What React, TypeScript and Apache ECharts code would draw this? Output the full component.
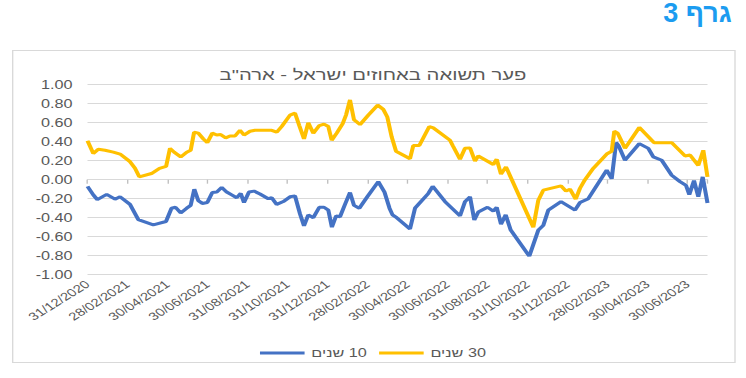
import React, { useEffect, useRef } from "react";
import * as echarts from "echarts";

// The reference image is horizontally stretched; render narrower and stretch back.
const BASE_W = 552;
const STRETCH = 746 / BASE_W;
const FONT = '"Liberation Sans", Arial, sans-serif';

const chartTitle = 'פער תשואה באחוזים ישראל - ארה"ב';
const pageTitle = "גרף 3";
const seriesNames = ["10 שנים", "30 שנים"];

// x tick labels, every 2 months starting 31/12/2020
const tickLabels = [
  "31/12/2020", "28/02/2021", "30/04/2021", "30/06/2021", "31/08/2021", "31/10/2021",
  "31/12/2021", "28/02/2022", "30/04/2022", "30/06/2022", "31/08/2022", "31/10/2022",
  "31/12/2022", "28/02/2023", "30/04/2023", "30/06/2023",
];

// [months since 31/12/2020, spread %]
const tenYear: [number, number][] = [
  [0, -0.07], [0.29, -0.16], [0.49, -0.21], [0.96, -0.155], [1.375, -0.205], [1.625, -0.18],
  [2.125, -0.26], [2.54, -0.42], [3.29, -0.475], [3.925, -0.44], [4.2, -0.3], [4.4, -0.29],
  [4.66, -0.35], [4.96, -0.3], [5.16, -0.27], [5.34, -0.1], [5.54, -0.22], [5.74, -0.25],
  [5.99, -0.24], [6.24, -0.135], [6.46, -0.13], [6.71, -0.08], [6.96, -0.13], [7.21, -0.16],
  [7.46, -0.19], [7.66, -0.145], [7.825, -0.24], [8.075, -0.13], [8.325, -0.12], [8.625, -0.15],
  [9.04, -0.2], [9.21, -0.19], [9.46, -0.26], [9.79, -0.23], [10.125, -0.18], [10.375, -0.17],
  [10.625, -0.36], [10.825, -0.485], [11.04, -0.37], [11.29, -0.4], [11.59, -0.29], [11.825, -0.29],
  [12.04, -0.32], [12.22, -0.5], [12.43, -0.38], [12.625, -0.39], [12.875, -0.26], [13.125, -0.135],
  [13.325, -0.27], [13.59, -0.3], [13.99, -0.18], [14.54, -0.02], [14.85, -0.13], [15.1, -0.3],
  [15.25, -0.37], [15.46, -0.4], [16.125, -0.52], [16.375, -0.3], [16.59, -0.25], [17.04, -0.145],
  [17.26, -0.07], [17.875, -0.23], [18.625, -0.38], [18.875, -0.23], [19.125, -0.18], [19.34, -0.425],
  [19.54, -0.34], [20.0, -0.29], [20.29, -0.33], [20.46, -0.29], [20.675, -0.47], [20.91, -0.37],
  [21.16, -0.53], [22.09, -0.805], [22.54, -0.53], [22.79, -0.48], [23.04, -0.32], [23.675, -0.23],
  [24.375, -0.32], [24.625, -0.24], [25.04, -0.2], [25.96, 0.1], [26.21, 0.01], [26.43, 0.39],
  [26.55, 0.36], [26.875, 0.205], [27.59, 0.38], [28.04, 0.33], [28.29, 0.24], [28.71, 0.205],
  [29.21, 0.047], [29.625, -0.02], [29.925, -0.06], [30.09, -0.156], [30.325, -0.01], [30.54, -0.18],
  [30.76, 0.03], [31.0, -0.245],
];

const thirtyYear: [number, number][] = [
  [0, 0.41], [0.29, 0.276], [0.54, 0.32], [0.875, 0.31], [1.29, 0.29], [1.63, 0.27],
  [2.125, 0.19], [2.375, 0.12], [2.59, 0.03], [3.2, 0.065], [3.6, 0.12], [3.93, 0.14],
  [4.125, 0.33], [4.33, 0.29], [4.66, 0.24], [4.96, 0.29], [5.16, 0.31], [5.33, 0.5],
  [5.54, 0.49], [5.79, 0.43], [5.99, 0.39], [6.24, 0.49], [6.46, 0.47], [6.66, 0.475],
  [6.91, 0.44], [7.125, 0.46], [7.375, 0.46], [7.625, 0.52], [7.825, 0.47], [8.125, 0.51],
  [8.375, 0.52], [9.21, 0.52], [9.46, 0.5], [9.71, 0.56], [10.125, 0.68], [10.375, 0.7],
  [10.59, 0.57], [10.825, 0.43], [11.04, 0.6], [11.29, 0.49], [11.59, 0.57], [11.825, 0.585],
  [12.04, 0.56], [12.21, 0.415], [12.46, 0.49], [12.76, 0.59], [12.925, 0.68], [13.125, 0.84],
  [13.325, 0.63], [13.625, 0.58], [14.04, 0.68], [14.51, 0.785], [14.79, 0.74], [14.99, 0.66],
  [15.21, 0.45], [15.425, 0.3], [16.125, 0.22], [16.29, 0.36], [16.59, 0.36], [17.09, 0.56],
  [17.29, 0.545], [18.125, 0.415], [18.26, 0.36], [18.625, 0.215], [18.875, 0.33], [19.125, 0.335],
  [19.375, 0.195], [19.54, 0.25], [20.29, 0.16], [20.46, 0.215], [20.675, 0.058], [20.925, 0.135],
  [22.29, -0.5], [22.54, -0.216], [22.79, -0.11], [23.675, -0.065], [23.925, -0.12], [24.125, -0.1],
  [24.41, -0.205], [24.625, -0.09], [24.875, 0.0], [25.29, 0.12], [25.96, 0.27], [26.21, 0.3],
  [26.34, 0.51], [26.51, 0.49], [26.875, 0.33], [27.59, 0.55], [28.325, 0.39], [29.21, 0.39],
  [29.875, 0.25], [30.125, 0.26], [30.54, 0.15], [30.79, 0.31], [31.0, 0.03],
];

const colors = ["#4472C4", "#FFC000"];

export default function App() {
  const ref = useRef<HTMLDivElement>(null);
  useEffect(() => {
    if (!ref.current) return;
    const chart = echarts.init(ref.current, null, { renderer: "svg" });
    const xLabel = (v: number) => {
      const i = Math.round(v / 2);
      return Math.abs(v - i * 2) < 1e-6 && tickLabels[i] ? tickLabels[i] : "";
    };
    const gridLeft = 87.5 / STRETCH;
    const gridRight = 707.5 / STRETCH;
    chart.setOption({
      animation: false,
      graphic: [
        {
          type: "rect",
          silent: true,
          shape: { x: 12.7 / STRETCH, y: 50.5, width: (735 - 12.7) / STRETCH, height: 312 },
          style: { fill: "none", stroke: "#d9d9d9", lineWidth: 1 },
        },
        {
          type: "text",
          x: 731.7 / STRETCH,
          y: 13.5,
          scaleX: 1 / STRETCH,
          style: {
            text: pageTitle,
            font: `bold 27px ${FONT}`,
            fill: "#1C9CF0",
            textAlign: "right",
            textVerticalAlign: "middle",
          },
        },
      ],
      title: {
        text: chartTitle,
        left: "center",
        top: 62,
        textStyle: { fontFamily: FONT, fontSize: 15, fontWeight: "normal", color: "#595959" },
      },
      grid: { left: gridLeft, top: 84.7, width: gridRight - gridLeft, height: 190 },
      xAxis: [
        {
          type: "value",
          min: 0,
          max: 31,
          interval: 2,
          axisLine: { show: true, onZero: true, lineStyle: { color: "#d9d9d9", width: 1 } },
          axisTick: { show: true, length: 4, lineStyle: { color: "#bfbfbf" } },
          axisLabel: { show: false },
          splitLine: { show: false },
        },
        {
          type: "value",
          min: 0,
          max: 31,
          interval: 2,
          position: "bottom",
          axisLine: { show: false, onZero: false },
          axisTick: { show: false },
          axisLabel: {
            rotate: 40,
            formatter: xLabel,
            fontFamily: FONT,
            fontSize: 11,
            color: "#595959",
            margin: 8,
          },
          splitLine: { show: false },
        },
      ],
      yAxis: {
        type: "value",
        min: -1,
        max: 1,
        interval: 0.2,
        axisLine: { show: false, onZero: false },
        axisTick: { show: false },
        axisLabel: {
          formatter: (v: number) => v.toFixed(2),
          fontFamily: FONT,
          fontSize: 12,
          color: "#595959",
          margin: 11,
        },
        splitLine: { lineStyle: { color: "#d9d9d9", width: 1 } },
      },
      legend: {
        left: "center",
        top: 342,
        icon: "rect",
        itemWidth: 33,
        itemHeight: 3,
        itemGap: 9,
        formatter: (name: string) => "\u200F" + name,
        textStyle: { fontFamily: FONT, fontSize: 12, color: "#595959" },
        data: seriesNames,
      },
      series: [
        {
          name: seriesNames[0],
          type: "line",
          data: tenYear,
          symbol: "none",
          lineStyle: { color: colors[0], width: 3 },
          itemStyle: { color: colors[0] },
        },
        {
          name: seriesNames[1],
          type: "line",
          data: thirtyYear,
          symbol: "none",
          lineStyle: { color: colors[1], width: 3 },
          itemStyle: { color: colors[1] },
        },
      ],
    });
    return () => chart.dispose();
  }, []);
  return (
    <div
      ref={ref}
      style={{
        position: "fixed",
        left: 0,
        top: 0,
        width: BASE_W,
        height: 378,
        transform: `scaleX(${STRETCH})`,
        transformOrigin: "0 0",
        background: "#fff",
      }}
    />
  );
}
